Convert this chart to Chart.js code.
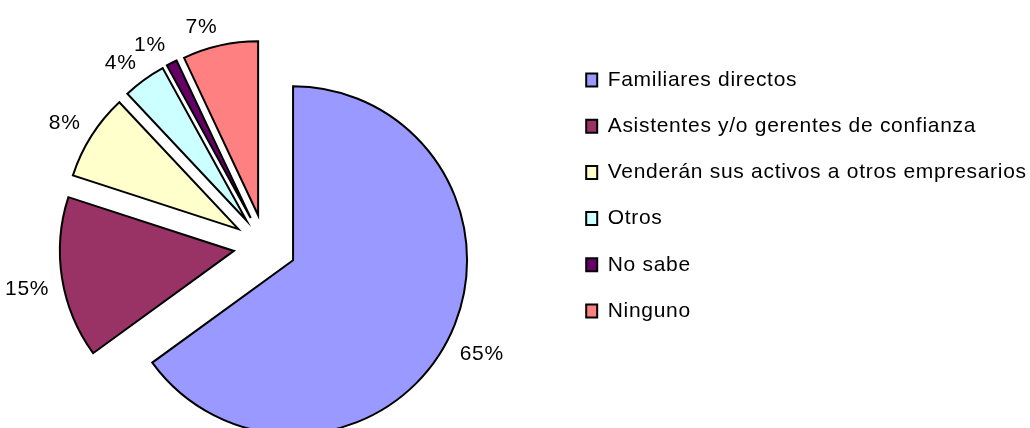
<!DOCTYPE html>
<html lang="es">
<head>
<meta charset="utf-8">
<title>Sucesión de la empresa</title>
<script src="https://cdn.jsdelivr.net/npm/chart.js@4.4.1/dist/chart.umd.min.js"></script>
<style>
  html, body { margin: 0; padding: 0; background: #fff; overflow: hidden; width: 1030px; height: 428px; }
  #wrap { position: absolute; left: -31px; top: 0; width: 1062px; height: 492px; }
  canvas { display: block; }
</style>
</head>
<body>
<div id="wrap"><canvas id="pie" width="1062" height="492"></canvas></div>
<script>
// Survey answers: who will take over the business
const categories = [
  'Familiares directos',
  'Asistentes y/o gerentes de confianza',
  'Venderán sus activos a otros empresarios',
  'Otros',
  'No sabe',
  'Ninguno'
];
const percentages = [65, 15, 8, 4, 1, 7];
const sliceColors = ['#9999FF', '#993366', '#FFFFCC', '#CCFFFF', '#660066', '#FF8080'];

const FONT = '"Liberation Sans", Arial, sans-serif';
const FONT_SIZE = 21;
const LETTER_SPACING = '0.7px';
Chart.defaults.font.family = FONT;
Chart.defaults.color = '#000';

// Exploded slices: each wedge keeps the common radius and is shifted
// outwards along its bisector by the arc's `offset` (in pixels).
Chart.ArcElement.prototype.draw = function (ctx) {
  const o = this.options;
  const mid = (this.startAngle + this.endAngle) / 2;
  const d = o.offset || 0;
  ctx.save();
  ctx.translate(Math.cos(mid) * d, Math.sin(mid) * d);
  ctx.beginPath();
  ctx.moveTo(this.x, this.y);
  ctx.arc(this.x, this.y, this.outerRadius, this.startAngle, this.endAngle);
  ctx.closePath();
  ctx.fillStyle = o.backgroundColor;
  ctx.fill();
  if (o.borderWidth) {
    ctx.lineWidth = o.borderWidth;
    ctx.strokeStyle = o.borderColor;
    ctx.lineJoin = 'miter';
    ctx.miterLimit = 10;
    ctx.stroke();
  }
  ctx.restore();
};

// Slightly wider text run for all canvas text (set before layout and before drawing)
const textSpacing = {
  id: 'textSpacing',
  beforeUpdate(chart) { chart.ctx.letterSpacing = LETTER_SPACING; },
  beforeDraw(chart) { chart.ctx.letterSpacing = LETTER_SPACING; }
};

// Percentage labels outside each slice; the label's inner corner sits on the bisector
const pctLabels = {
  id: 'pctLabels',
  afterDatasetsDraw(chart) {
    const ctx = chart.ctx;
    const meta = chart.getDatasetMeta(0);
    const values = chart.data.datasets[0].data;
    const capH = FONT_SIZE * 0.716;
    ctx.save();
    ctx.font = FONT_SIZE + 'px ' + FONT;
    ctx.fillStyle = '#000';
    ctx.textBaseline = 'alphabetic';
    meta.data.forEach((arc, i) => {
      const mid = (arc.startAngle + arc.endAngle) / 2;
      const ux = Math.cos(mid), uy = Math.sin(mid);
      const dist = arc.outerRadius + (arc.options.offset || 0) + 13;
      const px = arc.x + ux * dist;
      const py = arc.y + uy * dist;
      ctx.textAlign = ux >= 0 ? 'left' : 'right';
      ctx.fillText(values[i] + '%', px, uy <= 0 ? py : py + capH);
    });
    ctx.restore();
  }
};

new Chart(document.getElementById('pie'), {
  type: 'pie',
  data: {
    labels: categories,
    datasets: [{
      data: percentages,
      backgroundColor: sliceColors,
      borderColor: '#000',
      borderWidth: 2,
      offset: 31.5
    }]
  },
  options: {
    responsive: false,
    animation: false,
    events: [],
    radius: 174,
    layout: { padding: 0 },
    plugins: {
      tooltip: { enabled: false },
      legend: {
        position: 'right',
        align: 'start',
        maxWidth: 470,
        title: { display: true, text: '', padding: { top: 0, bottom: 29.9 }, font: { size: 12 } },
        labels: {
          boxWidth: 11,
          boxHeight: 13,
          padding: 25.2,
          color: '#000',
          font: { size: FONT_SIZE }
        }
      }
    }
  },
  plugins: [textSpacing, pctLabels]
});
</script>
</body>
</html>
